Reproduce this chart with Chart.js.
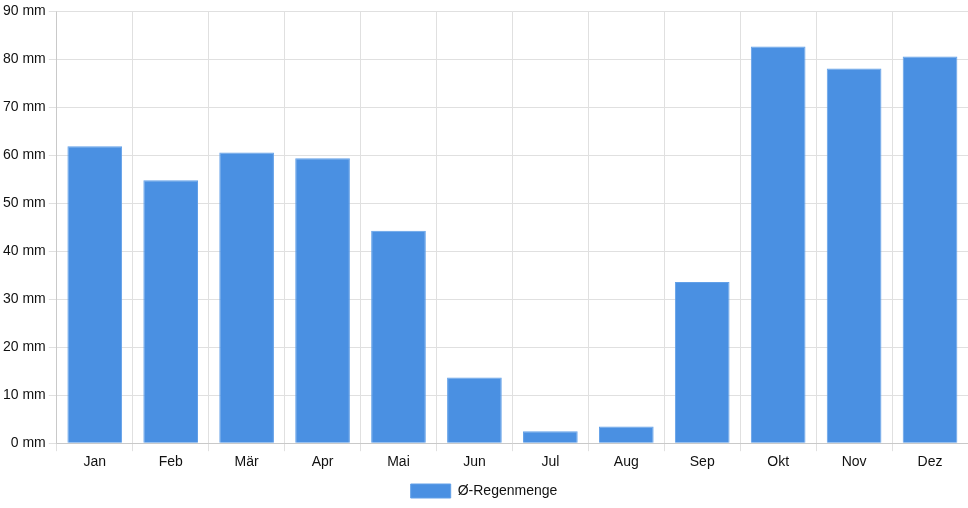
<!DOCTYPE html>
<html>
<head>
<meta charset="utf-8">
<script src="https://cdn.jsdelivr.net/npm/chart.js@4"></script>
<style>
  html, body { margin: 0; padding: 0; background: #fff; }
  #wrap { width: 968px; height: 508px; }
</style>
</head>
<body>
<div id="wrap"><canvas id="regen"></canvas></div>
<script>
// Monate und mittlere Regenmenge (mm)
const monate = ['Jan', 'Feb', 'Mär', 'Apr', 'Mai', 'Jun', 'Jul', 'Aug', 'Sep', 'Okt', 'Nov', 'Dez'];
const regenmenge = [61.9, 54.8, 60.6, 59.4, 44.3, 13.7, 2.5, 3.5, 33.6, 82.7, 78.1, 80.6];
const serienName = 'Ø-Regenmenge';

Chart.defaults.font.family = '"Liberation Sans", Arial, sans-serif';
Chart.defaults.font.size = 14;
Chart.defaults.color = '#111';

new Chart(document.getElementById('regen'), {
    type: 'bar',
    data: {
        labels: monate,
        datasets: [{
            label: serienName,
            data: regenmenge,
            backgroundColor: '#4a90e2',
            borderColor: '#62a0e8',
            borderWidth: 1
        }]
    },
    options: {
        responsive: true,
        maintainAspectRatio: false,
        animation: false,
        layout: { padding: { top: 3, right: 0, bottom: 0 } },
        plugins: {
            legend: {
                position: 'bottom',
                labels: { boxWidth: 40, boxHeight: 14 }
            },
            tooltip: { enabled: false }
        },
        scales: {
            x: {
                grid: { color: '#e0e0e0' }
            },
            y: {
                min: 0,
                max: 90,
                ticks: {
                    stepSize: 10,
                    callback: v => v + ' mm'
                },
                grid: { color: '#e0e0e0' }
            }
        }
    }
});
</script>
</body>
</html>
